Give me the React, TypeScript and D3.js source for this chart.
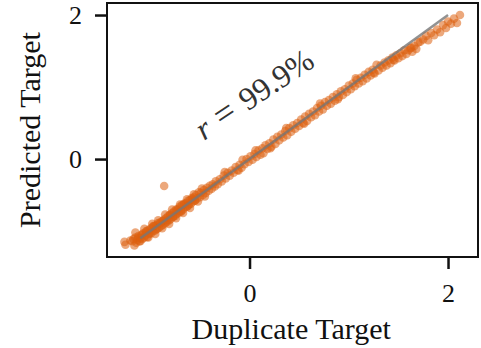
import { useRef, useEffect } from "react";
import * as d3 from "d3";

// duplicate target (x) vs predicted target (y)
const duplicate = [
  -1.26, -1.25, -1.18, -1.16, -1.15, -1.14, -1.13, -1.12, -1.11, -1.10, -1.09, -1.08, -1.07, -1.06,
  -1.05, -1.04, -1.03, -1.02, -1.01, -1.00, -0.99, -0.98, -0.97, -0.96, -0.95, -0.94, -0.93, -0.92,
  -0.91, -0.90, -0.89, -0.88, -0.87, -0.86, -0.86, -0.85, -0.84, -0.83, -0.82, -0.81, -0.80, -0.79,
  -0.78, -0.77, -0.76, -0.75, -0.74, -0.73, -0.72, -0.71, -0.70, -0.69, -0.68, -0.67, -0.66, -0.65,
  -0.64, -0.63, -0.62, -0.61, -0.60, -0.59, -0.58, -0.57, -0.56, -0.55, -0.54, -0.53, -0.51, -0.50,
  -0.49, -0.47, -0.46, -0.44, -0.43, -0.41, -0.40, -0.38, -0.37, -0.35, -0.34, -0.32, -0.30, -0.28,
  -0.26, -0.24, -0.22, -0.20, -0.18, -0.16, -0.14, -0.12, -0.10, -0.08, -0.07, -0.05, -0.03, -0.01,
  0.01, 0.03, 0.05, 0.07, 0.09, 0.11, 0.13, 0.14, 0.16, 0.18, 0.20, 0.22, 0.24, 0.26, 0.28, 0.30,
  0.32, 0.34, 0.36, 0.38, 0.40, 0.42, 0.44, 0.46, 0.48, 0.50, 0.52, 0.54, 0.56, 0.58, 0.60, 0.62,
  0.64, 0.66, 0.68, 0.70, 0.72, 0.74, 0.76, 0.78, 0.80, 0.82, 0.84, 0.86, 0.88, 0.90, 0.92, 0.94,
  0.96, 0.98, 1.00, 1.02, 1.04, 1.06, 1.08, 1.10, 1.12, 1.14, 1.16, 1.18, 1.20, 1.22, 1.24, 1.26,
  1.28, 1.30, 1.32, 1.34, 1.36, 1.38, 1.40, 1.42, 1.44, 1.46, 1.48, 1.50, 1.52, 1.54, 1.56, 1.58,
  1.60, 1.62, 1.64, 1.66, 1.68, 1.70, 1.72, 1.75, 1.78, 1.80, 1.83, 1.86, 1.89, 1.92, 1.95, 1.98,
  2.00, 2.03, 2.06, 2.09, 2.12,
  -1.20, -1.17, -1.12, -1.08, -1.04, -1.01, -0.97, -0.94, -0.90, -0.87, -0.83, -0.80, -0.77, -0.73,
  -0.69, -0.66, -0.62, -0.58, -0.55,
  -1.15, -1.10, -1.06, -1.02, -0.98, -0.95, -0.92, -0.88, -0.85, -0.81, -0.78, -0.74, -0.70, -0.67,
  -0.63, -0.60, -0.56, -0.52, -0.48, -0.45,
  -0.25, -0.11, 0.06, 0.21, 0.37, 0.55, 0.71, 0.89, 1.07, 1.25, 1.45, 1.63,
];
const predicted = [
  -1.15, -1.19, -1.14, -1.20, -1.09, -1.16, -1.12, -1.07, -1.14, -1.10, -1.05, -1.11, -1.03, -1.09,
  -1.06, -1.01, -1.08, -0.99, -1.04, -0.97, -1.03, -0.95, -1.00, -0.93, -0.99, -0.92, -0.97, -0.89,
  -0.95, -0.88, -0.93, -0.86, -0.91, -0.84, -0.375, -0.89, -0.82, -0.87, -0.79, -0.85, -0.77, -0.83,
  -0.75, -0.80, -0.73, -0.79, -0.70, -0.76, -0.69, -0.74, -0.66, -0.72, -0.64, -0.70, -0.62, -0.67,
  -0.61, -0.66, -0.58, -0.63, -0.57, -0.62, -0.54, -0.59, -0.53, -0.58, -0.50, -0.55, -0.46, -0.53,
  -0.47, -0.50, -0.43, -0.47, -0.40, -0.44, -0.37, -0.41, -0.35, -0.38, -0.31, -0.35, -0.28, -0.31,
  -0.23, -0.27, -0.19, -0.23, -0.16, -0.19, -0.11, -0.15, -0.08, -0.12, -0.01, -0.07, 0.00, -0.04,
  0.04, -0.01, 0.07, 0.03, 0.12, 0.06, 0.15, 0.08, 0.19, 0.14, 0.22, 0.17, 0.27, 0.21, 0.31, 0.26,
  0.34, 0.30, 0.39, 0.33, 0.43, 0.38, 0.47, 0.42, 0.50, 0.46, 0.55, 0.50, 0.59, 0.53, 0.63, 0.58,
  0.66, 0.61, 0.71, 0.66, 0.74, 0.69, 0.79, 0.74, 0.82, 0.77, 0.86, 0.81, 0.90, 0.86, 0.94, 0.89,
  0.97, 0.93, 1.02, 0.97, 1.05, 1.01, 1.10, 1.05, 1.13, 1.08, 1.17, 1.12, 1.21, 1.16, 1.24, 1.19,
  1.31, 1.23, 1.30, 1.27, 1.34, 1.30, 1.37, 1.33, 1.41, 1.37, 1.44, 1.40, 1.47, 1.43, 1.51, 1.46,
  1.51, 1.54, 1.49, 1.57, 1.53, 1.62, 1.63, 1.66, 1.71, 1.65, 1.75, 1.72, 1.80, 1.76, 1.86, 1.82,
  1.91, 1.88, 1.95, 1.89, 2.00,
  -1.13, -1.11, -1.09, -1.05, -1.00, -1.03, -0.93, -0.97, -0.89, -0.86, -0.85, -0.78, -0.80, -0.71,
  -0.73, -0.63, -0.65, -0.56, -0.57,
  -1.02, -1.14, -0.97, -1.09, -0.90, -1.04, -0.85, -0.96, -0.77, -0.90, -0.70, -0.82, -0.63, -0.75,
  -0.56, -0.68, -0.49, -0.59, -0.41, -0.52,
  -0.18, -0.16, 0.12, 0.15, 0.43, 0.49, 0.77, 0.83, 1.12, 1.20, 1.38, 1.55,
];
const xTicks = [0, 2];
const yTicks = [0, 2];
const diagonal = [-1.1, 2.0];

export default function App() {
  const svgRef = useRef<SVGSVGElement>(null);

  useEffect(() => {
    const width = 481;
    const height = 348;
    const margin = { top: 3, right: 3, bottom: 91, left: 107 };
    const innerW = width - margin.left - margin.right;
    const innerH = height - margin.top - margin.bottom;

    const svg = d3.select(svgRef.current);
    svg.selectAll("*").remove();

    const x = d3.scaleLinear().domain([-1.436, 2.302]).range([0, innerW]);
    const y = d3.scaleLinear().domain([-1.36, 2.167]).range([innerH, 0]);

    const g = svg.append("g").attr("transform", `translate(${margin.left},${margin.top})`);

    const pts = duplicate.map((d, i) => [d, predicted[i]]);

    g.selectAll(".dot")
      .data(pts)
      .enter()
      .append("circle")
      .attr("cx", (d) => x(d[0]))
      .attr("cy", (d) => y(d[1]))
      .attr("r", 4.3)
      .attr("fill", "#dd6010")
      .attr("fill-opacity", 0.55);

    // y = x reference
    g.append("line")
      .attr("x1", x(diagonal[0]))
      .attr("y1", y(diagonal[0]))
      .attr("x2", x(diagonal[1]))
      .attr("y2", y(diagonal[1]))
      .attr("stroke", "#777")
      .attr("stroke-width", 2.5)
      .attr("stroke-opacity", 0.8);

    // frame
    g.append("rect")
      .attr("x", 0)
      .attr("y", 0)
      .attr("width", innerW)
      .attr("height", innerH)
      .attr("fill", "none")
      .attr("stroke", "#111")
      .attr("stroke-width", 2);

    const font = "'Liberation Serif', 'DejaVu Serif', serif";

    const xAxis = g
      .append("g")
      .attr("transform", `translate(0,${innerH})`)
      .call(d3.axisBottom(x).tickValues(xTicks).tickSize(12).tickPadding(15).tickFormat(d3.format("d")));
    const yAxis = g
      .append("g")
      .call(d3.axisLeft(y).tickValues(yTicks).tickSize(12).tickPadding(13).tickFormat(d3.format("d")));

    [xAxis, yAxis].forEach((ax) => {
      ax.select(".domain").remove();
      ax.selectAll("line").attr("stroke", "#111").attr("stroke-width", 2.5);
      ax.selectAll("text").attr("fill", "#111").attr("font-size", "26px").attr("font-family", font);
    });

    svg
      .append("text")
      .attr("x", margin.left + x(0.42))
      .attr("y", 339)
      .attr("text-anchor", "middle")
      .attr("fill", "#111")
      .attr("font-size", "30px")
      .attr("font-family", font)
      .text("Duplicate Target");

    svg
      .append("text")
      .attr("transform", `translate(40,${margin.top + innerH / 2}) rotate(-90)`)
      .attr("text-anchor", "middle")
      .attr("fill", "#111")
      .attr("font-size", "30px")
      .attr("font-family", font)
      .text("Predicted Target");

    const label = svg
      .append("text")
      .attr("transform", "translate(204,141) rotate(-34)")
      .attr("fill", "#333")
      .attr("font-size", "32px")
      .attr("font-family", font);
    label.append("tspan").attr("font-style", "italic").text("r");
    label.append("tspan").attr("dx", 10).attr("font-size", "36px").text("=");
    label.append("tspan").attr("dx", 10).text("99.9%");
  }, []);

  return (
    <svg
      ref={svgRef}
      width={481}
      height={348}
      style={{ position: "absolute", left: 0, top: 0, background: "#fff" }}
    />
  );
}
